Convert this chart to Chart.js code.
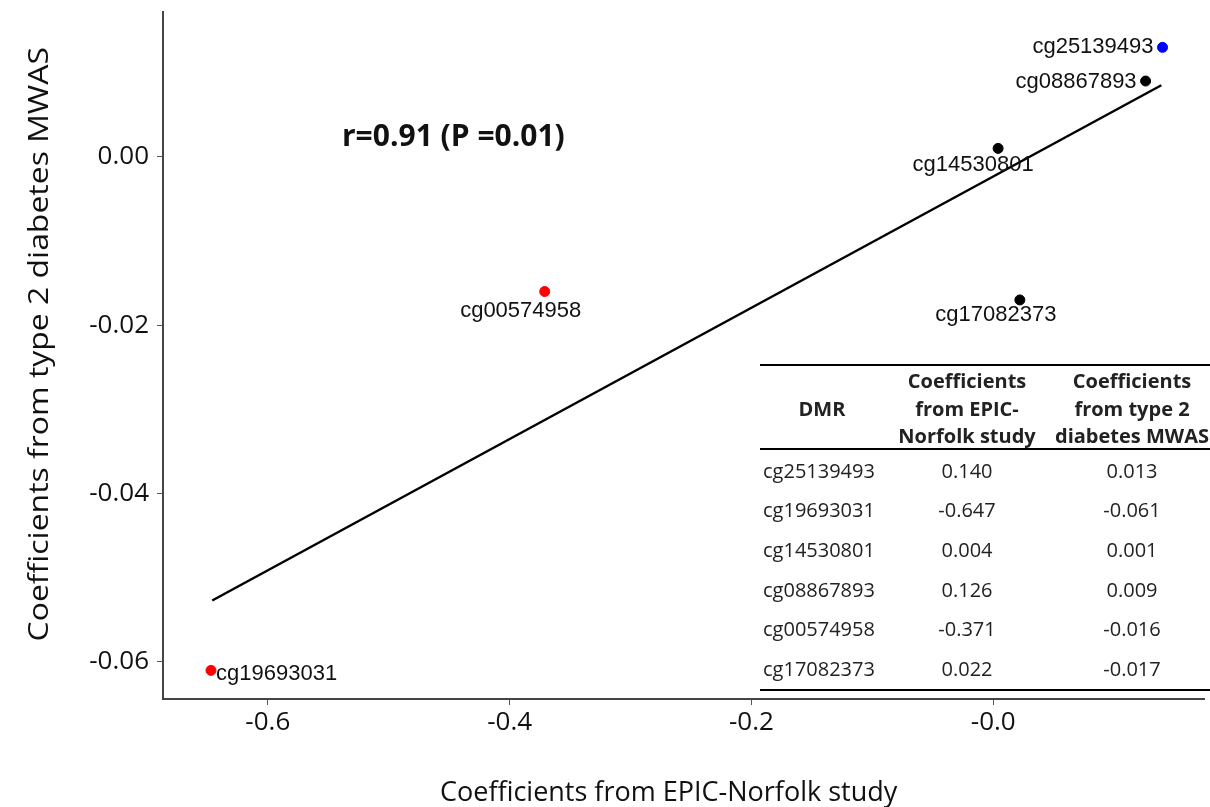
<!DOCTYPE html>
<html>
<head>
<meta charset="utf-8">
<title>EPIC-Norfolk vs MWAS</title>
<script src="https://cdn.jsdelivr.net/npm/chart.js@4.4.0/dist/chart.umd.min.js"></script>
<style>
    html, body { margin:0; padding:0; background:#fff; }
    #wrap { position:relative; width:1210px; height:807px; }
</style>
</head>
<body>
<div id="wrap"><canvas id="myChart"></canvas></div>
<script>
const probes   = ["cg25139493","cg19693031","cg14530801","cg08867893","cg00574958","cg17082373"];
const epicCoef = [0.140, -0.647, 0.004, 0.126, -0.371, 0.022];
const mwasCoef = [0.013, -0.061, 0.001, 0.009, -0.016, -0.017];
const dotColors = ["#0000ff","#ff0000","#000000","#000000","#ff0000","#000000"];

// regression line end points
const fitX = [-0.646, 0.139];
const fitY = [-0.0527, 0.0085];

const xTicks = [-0.6, -0.4, -0.2, 0.0];
const xTickLabels = ["-0.6","-0.4","-0.2","-0.0"];
const yTicks = [0.00, -0.02, -0.04, -0.06];
const yTickLabels = ["0.00","-0.02","-0.04","-0.06"];

const corrText = "r=0.91 (P =0.01)";
const xTitle = "Coefficients from EPIC-Norfolk study";
const yTitle = "Coefficients from type 2 diabetes MWAS";
const tableHead = [["DMR"], ["Coefficients","from EPIC-","Norfolk study"], ["Coefficients","from type 2","diabetes MWAS"]];

// label placement for each dot: [dx, dy, align]
const labelPos = [[-9,0,"right"],[5,4,"left"],[-25,17,"center"],[-9,1,"right"],[-24,19,"center"],[-24,15,"center"]];

const points = epicCoef.map((x,i)=>({x:x, y:mwasCoef[i]}));
const fitLine = fitX.map((x,i)=>({x:x, y:fitY[i]}));

// text drawn on top: point labels, r value, axis titles, table
const extras = {
    id:'extras',
    afterDraw(chart){
        const c = chart.ctx;
        const xs = chart.scales.x, ys = chart.scales.y;
        c.save();
        c.fillStyle = "#111";

        // point labels
        c.font = "22px 'Liberation Sans', Arial, sans-serif";
        c.textBaseline = "middle";
        points.forEach((p,i)=>{
            const px = xs.getPixelForValue(p.x), py = ys.getPixelForValue(p.y);
            c.textAlign = labelPos[i][2];
            c.fillText(probes[i], px+labelPos[i][0], py+labelPos[i][1]);
        });

        // r value
        c.font = "bold 30px 'Open Sans', sans-serif";
        c.textAlign = "left";
        c.fillText(corrText, 342, 137);

        // axis titles
        c.font = "27px 'Open Sans', sans-serif";
        c.fillText(xTitle, 440, 793);
        c.save();
        c.font = "28px 'Open Sans', sans-serif";
        c.translate(40, 47);
        c.rotate(-Math.PI/2);
        c.scale(1.14, 1);
        c.textAlign = "right";
        c.fillText(yTitle, 0, 0);
        c.restore();

        // table
        c.fillStyle = "#222";
        c.strokeStyle = "#000";
        c.lineWidth = 2;
        [365, 449, 690].forEach(y=>{
            c.beginPath(); c.moveTo(760, y); c.lineTo(1210, y); c.stroke();
        });
        const colX = [822, 967, 1132];
        c.font = "bold 20px 'Open Sans', sans-serif";
        c.textAlign = "center";
        tableHead.forEach((lines,j)=>{
            const y0 = 410 - (lines.length-1)*27.5/2;
            lines.forEach((t,k)=> c.fillText(t, colX[j], y0 + k*27.5));
        });
        c.font = "20px 'Open Sans', sans-serif";
        probes.forEach((p,i)=>{
            const y = 472 + i*39.6;
            c.textAlign = "left";
            c.fillText(p, 763, y);
            c.textAlign = "center";
            c.fillText(epicCoef[i].toFixed(3), colX[1], y);
            c.fillText(mwasCoef[i].toFixed(3), colX[2], y);
        });
        c.restore();
    }
};

const ctx = document.getElementById('myChart');
const myChart = new Chart(ctx, {
    type:'scatter',
    data:{
        datasets:[
            {
                type:'line',
                data:fitLine,
                borderColor:"#000",
                borderWidth:2.5,
                pointRadius:0,
                fill:false
            },
            {
                data:points,
                pointBackgroundColor:dotColors,
                pointBorderColor:dotColors,
                pointRadius:5,
                pointHoverRadius:5
            }
        ]
    },
    options:{
        responsive:true,
        maintainAspectRatio:false,
        animation:false,
        layout:{ padding:{ top:12, left:0, right:0, bottom:0 } },
        plugins:{
            legend:{ display:false },
            tooltip:{ enabled:false }
        },
        scales:{
            x:{
                type:'linear',
                min:-0.6867,
                max:0.1743,
                afterBuildTicks:(s)=>{ s.ticks = xTicks.map(v=>({value:v})); },
                afterFit:(s)=>{ s.height = 108; s.paddingLeft = 0; s.paddingRight = 0; },
                ticks:{
                    callback:(v)=>xTickLabels[xTicks.indexOf(v)],
                    font:{ family:"'Open Sans', sans-serif", size:26 },
                    color:"#111",
                    padding:2,
                    maxRotation:0
                },
                grid:{ drawOnChartArea:false, tickLength:6, color:"#555" },
                border:{ color:"#444", width:2 }
            },
            y:{
                type:'linear',
                min:-0.0644,
                max:0.0172,
                afterBuildTicks:(s)=>{ s.ticks = yTicks.map(v=>({value:v})); },
                afterFit:(s)=>{ s.width = 163; s.paddingTop = 0; s.paddingBottom = 0; },
                ticks:{
                    callback:(v)=>yTickLabels[yTicks.indexOf(v)],
                    font:{ family:"'Open Sans', sans-serif", size:26 },
                    color:"#111",
                    padding:8
                },
                grid:{ drawOnChartArea:false, tickLength:6, color:"#555" },
                border:{ color:"#444", width:2 }
            }
        }
    },
    plugins:[extras]
});
</script>
</body>
</html>
